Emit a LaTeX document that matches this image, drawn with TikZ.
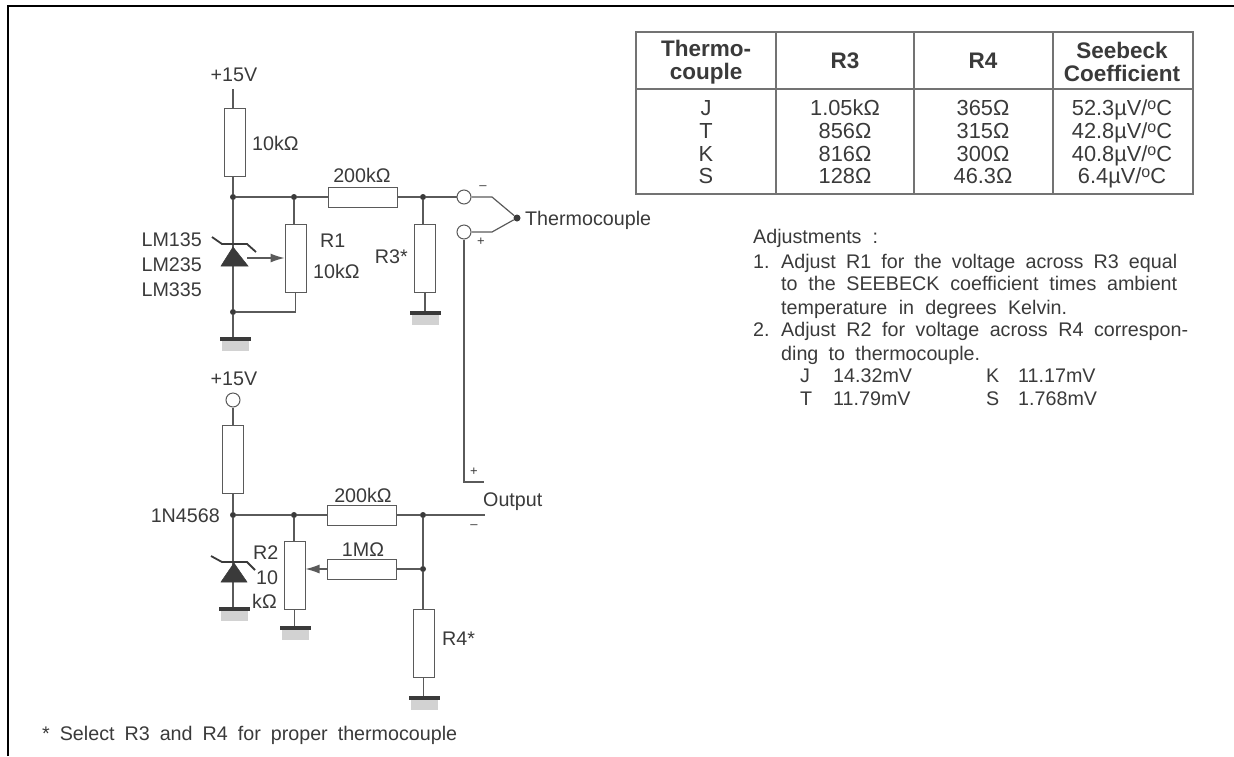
\documentclass[tikz,border=0pt]{standalone}
\usepackage{fontspec}
\setmainfont{Liberation Sans}
\usetikzlibrary{arrows.meta,patterns}
\definecolor{ink}{HTML}{3A3A3A}
\definecolor{wire}{HTML}{5A5A5A}
\tikzset{
  wireline/.style={draw=wire,line width=1.2pt},
  res/.style={draw=wire,line width=1pt,fill=white,inner sep=0pt,rectangle},
  resv/.style={res,minimum width=21pt,minimum height=68pt},
  resh/.style={res,minimum width=69pt,minimum height=20pt},
  junction/.style={circle,fill=ink,inner sep=0pt,minimum size=6pt},
  terminal/.style={circle,draw=wire,line width=1pt,fill=white,inner sep=0pt,minimum size=14pt},
  gbar/.style={fill=ink,inner sep=0pt,minimum width=31pt,minimum height=3.2pt},
  ghatch/.style={fill=gray!35,inner sep=0pt,minimum width=27pt,minimum height=10pt},
  txt/.style={anchor=base west,inner sep=0pt,text=ink,font=\fontsize{19.7}{19.7}\selectfont},
  txtc/.style={txt,anchor=base},
  txtr/.style={txt,anchor=base east},
  small/.style={anchor=center,inner sep=0pt,text=ink,font=\fontsize{13}{13}\selectfont},
  hdr/.style={anchor=base,inner sep=0pt,text=ink,font=\fontsize{22.5}{22.5}\selectfont\bfseries},
  cell/.style={anchor=base,inner sep=0pt,text=ink,font=\fontsize{21.8}{21.8}\selectfont},
  tbl/.style={draw=wire!85,line width=1.3pt},
  frame/.style={draw=black,line width=2.8pt},
  arrowline/.style={wireline,-{Latex[length=14pt,width=9pt]}},
  diode/.style={fill=ink,draw=ink,line width=.5pt},
  zbar/.style={draw=ink,line width=1.8pt}
}
\newcommand{\gndsym}[3]{%
  \node[ghatch] (#1h) at (#2,#3+7) {};
  \node[gbar] (#1) at (#2,#3) {};
}
\newcommand{\uvc}{µV/\raisebox{.5ex}{\fontsize{16}{16}\selectfont o}C}
\begin{document}
\begin{tikzpicture}[x=1pt,y=-1pt]
\useasboundingbox (0,0) rectangle (1234,756);
% frame
\coordinate (fa) at (8,756);
\coordinate (fb) at (8,6);
\coordinate (fc) at (1234,6);
\draw[frame] (fa) -- (fb) -- (fc);

% ---------- upper circuit
\coordinate (vtop) at (233,89);
\node[resv] (Ra) at (234.5,142.5) {};
\node[junction] (ja) at (233,197) {};
\node[junction] (jb) at (294,197) {};
\node[resh] (Rb) at (363,197) {};
\node[junction] (jc) at (423,197) {};
\node[terminal] (ca) at (464,197) {};
\node[terminal] (cb) at (464,232) {};
\coordinate (ka) at (492,197);
\coordinate (kb) at (492,232);
\node[junction,minimum size=7pt] (tc) at (517,218) {};
\node[resv] (Rone) at (295.5,258) {};
\node[resv] (Rthree) at (425,258) {};
\node[junction] (jd) at (233,312) {};
\coordinate (ke) at (295.5,312);
\gndsym{ga}{235.5}{339}
\gndsym{gb}{425.5}{313}
\coordinate (kout) at (464,482);
\coordinate (ptop) at (484,482);

\draw[wireline] (vtop) -- (vtop |- Ra.north);
\draw[wireline] (ja |- Ra.south) -- (ja);
\draw[wireline] (ja) -- (jb);
\draw[wireline] (jb) -- (Rb);
\draw[wireline] (Rb) -- (jc);
\draw[wireline] (jc) -- (ca);
\draw[wireline] (ca) -- (ka) -- (tc);
\draw[wireline] (cb) -- (kb) -- (tc);
\draw[wireline] (jb) -- (jb |- Rone.north);
\draw[wireline] (jc) -- (jc |- Rthree.north);
\draw[wireline] (Rthree.south) -- (Rthree.south |- gb.north);
\draw[wireline] (Rone) -- (ke) -- (jd);
\draw[wireline] (ja) -- (jd);
\draw[wireline] (jd) -- (jd |- ga.north);
\draw[wireline] (cb) -- (kout) -- (ptop);

% upper zener
\coordinate (da) at (233,247);
\coordinate (db) at (221,266);
\coordinate (dc) at (248,266);
\filldraw[diode] (da) -- (db) -- (dc) -- cycle;
\coordinate (za) at (212,237);
\coordinate (zb) at (222,244);
\coordinate (zc) at (247,244);
\coordinate (zd) at (256,252);
\draw[zbar] (za) -- (zb) -- (zc) -- (zd);
\coordinate (wa) at (247,258);
\draw[arrowline] (wa) -- (Rone.west);

% upper labels
\node[txtc] (t1) at (234,81) {+15V};
\node[txt] (t2) at (252,150) {10kΩ};
\node[txtc] (t3) at (362,182) {200kΩ};
\node[txtr] (t4) at (202,246) {LM135};
\node[txtr] (t5) at (202,271) {LM235};
\node[txtr] (t6) at (202,296) {LM335};
\node[txt] (t7) at (320,247) {R1};
\node[txt] (t8) at (313,278) {10kΩ};
\node[txtr] (t9) at (408,263) {R3*};
\node[txt] (t10) at (525,225) {Thermocouple};
\node[small] (m1) at (483,188) {–};
\node[small] (m2) at (481,242) {+};
\node[small] (m3) at (474,472) {+};
\node[small] (m4) at (474,527) {–};

% ---------- lower circuit
\node[terminal] (cc) at (233,400) {};
\node[resv] (Rc) at (233,459.5) {};
\node[junction] (je) at (233,515) {};
\node[junction] (jf) at (294,515) {};
\node[resh] (Rd) at (362,515) {};
\node[junction] (jg) at (423,515) {};
\coordinate (oend) at (485,515);
\node[resv] (Rtwo) at (294.5,575.5) {};
\node[resh] (Re) at (362,569) {};
\node[junction] (jh) at (423,569) {};
\node[resv] (Rfour) at (423.5,643) {};
\gndsym{gc}{234}{609}
\gndsym{gd}{295.5}{628}
\gndsym{ge}{424}{698}

\draw[wireline] (cc) -- (Rc);
\draw[wireline] (Rc) -- (je);
\draw[wireline] (je) -- (jf);
\draw[wireline] (jf) -- (Rd);
\draw[wireline] (Rd) -- (jg);
\draw[wireline] (jg) -- (oend);
\draw[wireline] (jf) -- (jf |- Rtwo.north);
\draw[wireline] (Rtwo.south) -- (Rtwo.south |- gd.north);
\draw[wireline] (jg) -- (jh);
\draw[wireline] (jh) -- (jh |- Rfour.north);
\draw[wireline] (Rfour.south) -- (Rfour.south |- ge.north);
\draw[wireline] (jh) -- (Re);
\draw[arrowline] (Re.west) -- (Rtwo.east |- Re.west);
\draw[wireline] (je) -- (je |- gc.north);

% lower zener
\coordinate (dd) at (234,563);
\coordinate (de) at (221,582);
\coordinate (df) at (247,582);
\filldraw[diode] (dd) -- (de) -- (df) -- cycle;
\coordinate (ze) at (211,556);
\coordinate (zf) at (222,562);
\coordinate (zg) at (247,562);
\coordinate (zh) at (255,570);
\draw[zbar] (ze) -- (zf) -- (zg) -- (zh);

% lower labels
\node[txtc] (t11) at (234,385) {+15V};
\node[txtr] (t12) at (220,522) {1N4568};
\node[txtc] (t13) at (363,502) {200kΩ};
\node[txt] (t14) at (483,506) {Output};
\node[txtc] (t15) at (363,556) {1MΩ};
\node[txt] (t16) at (253,559) {R2};
\node[txt] (t17) at (256,584) {10};
\node[txt] (t18) at (252,608) {kΩ};
\node[txt] (t19) at (442,645) {R4*};
\node[txt] (t20) at (42,740) {\makebox[415pt][s]{* Select R3 and R4 for proper thermocouple}};

% ---------- table
\coordinate (ta) at (636,32);
\coordinate (tb) at (1193,194);
\coordinate (tl) at (636,89);
\coordinate (tr) at (1193,89);
\coordinate (c1a) at (776,32);
\coordinate (c1b) at (776,194);
\coordinate (c2a) at (914,32);
\coordinate (c2b) at (914,194);
\coordinate (c3a) at (1053,32);
\coordinate (c3b) at (1053,194);
\draw[tbl] (ta) rectangle (tb);
\draw[tbl] (tl) -- (tr);
\draw[tbl] (c1a) -- (c1b);
\draw[tbl] (c2a) -- (c2b);
\draw[tbl] (c3a) -- (c3b);

\node[hdr] (h1) at (706,56) {Thermo-};
\node[hdr] (h2) at (706,79) {couple};
\node[hdr] (h3) at (845,68) {R3};
\node[hdr] (h4) at (983,68) {R4};
\node[hdr] (h5) at (1122,58) {Seebeck};
\node[hdr] (h6) at (1122,81) {Coefficient};

\node[cell] (a1) at (706,115) {J};
\node[cell] (a2) at (706,138) {T};
\node[cell] (a3) at (706,161) {K};
\node[cell] (a4) at (706,183) {S};
\node[cell] (b1) at (845,115) {1.05kΩ};
\node[cell] (b2) at (845,138) {856Ω};
\node[cell] (b3) at (845,161) {816Ω};
\node[cell] (b4) at (845,183) {128Ω};
\node[cell] (d1) at (983,115) {365Ω};
\node[cell] (d2) at (983,138) {315Ω};
\node[cell] (d3) at (983,161) {300Ω};
\node[cell] (d4) at (983,183) {46.3Ω};
\node[cell] (e1) at (1122,115) {52.3\uvc};
\node[cell] (e2) at (1122,138) {42.8\uvc};
\node[cell] (e3) at (1122,161) {40.8\uvc};
\node[cell] (e4) at (1122,183) {6.4\uvc};

% ---------- adjustments
\node[txt] (n1) at (753,243) {\makebox[125pt][s]{Adjustments :}};
\node[txt] (n2) at (753,268) {1.};
\node[txt] (n3) at (781,268) {\makebox[396pt][s]{Adjust R1 for the voltage across R3 equal}};
\node[txt] (n4) at (781,290) {\makebox[396pt][s]{to the SEEBECK coefficient times ambient}};
\node[txt] (n5) at (781,314) {\makebox[286pt][s]{temperature in degrees Kelvin.}};
\node[txt] (n6) at (753,336) {2.};
\node[txt] (n7) at (781,336) {\makebox[407pt][s]{Adjust R2 for voltage across R4 correspon-}};
\node[txt] (n8) at (781,360) {\makebox[199pt][s]{ding to thermocouple.}};
\node[txt] (n9) at (800,382) {J};
\node[txt] (n10) at (833,382) {14.32mV};
\node[txt] (n11) at (986,382) {K};
\node[txt] (n12) at (1018,382) {11.17mV};
\node[txt] (n13) at (800,405) {T};
\node[txt] (n14) at (833,405) {11.79mV};
\node[txt] (n15) at (986,405) {S};
\node[txt] (n16) at (1018,405) {1.768mV};
\end{tikzpicture}
\end{document}
